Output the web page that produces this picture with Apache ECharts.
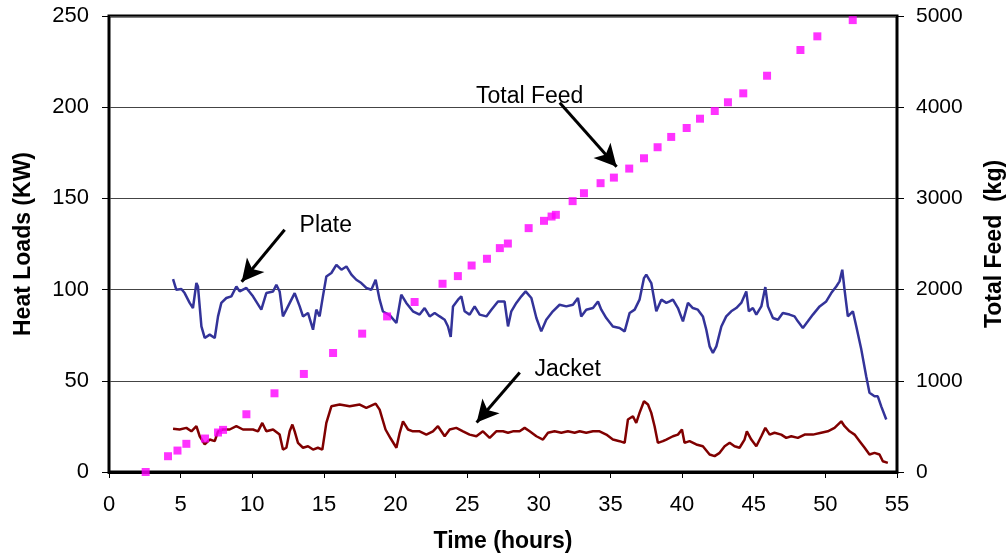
<!DOCTYPE html>
<html>
<head>
<meta charset="utf-8">
<title>Heat Loads and Total Feed</title>
<script src="https://cdn.jsdelivr.net/npm/echarts@6/dist/echarts.min.js"></script>
<style>
  html, body { margin: 0; padding: 0; background: #fff; }
  #chart { width: 1008px; height: 558px; }
</style>
</head>
<body>
<div id="chart"></div>
<script>
// Plate heat load (KW) against time (hours)
const plateHours = [4.47,4.70,5.05,5.28,5.63,5.86,6.10,6.21,6.45,6.68,7.03,7.38,7.61,7.84,8.19,8.54,8.89,9.12,9.59,10.05,10.63,10.98,11.45,11.68,11.91,12.14,12.38,12.73,12.96,13.31,13.54,13.89,14.24,14.47,14.70,14.93,15.17,15.52,15.87,16.22,16.57,16.92,17.26,17.61,17.96,18.31,18.61,18.89,19.12,19.59,20.06,20.40,20.75,21.21,21.68,22.03,22.38,22.73,23.08,23.43,23.66,23.85,24.01,24.36,24.59,24.82,25.17,25.52,25.87,26.34,26.69,27.15,27.61,27.85,28.08,28.43,28.78,29.08,29.48,29.83,30.17,30.52,30.98,31.45,31.92,32.38,32.73,32.96,33.31,33.78,34.13,34.36,34.71,35.17,35.64,35.99,36.34,36.69,37.03,37.34,37.50,37.85,38.20,38.55,38.90,39.13,39.36,39.71,40.06,40.41,40.75,41.10,41.45,41.69,41.92,42.15,42.39,42.74,43.08,43.43,43.78,44.13,44.48,44.66,44.94,45.18,45.53,45.81,45.99,46.34,46.69,47.03,47.50,47.85,48.08,48.43,48.78,49.13,49.60,50.06,50.41,50.76,50.99,51.18,51.34,51.57,51.92,52.16,52.51,52.85,53.08,53.43,53.66,53.90,54.25];
const plateKW = [105.8,99.9,100.3,98.1,92.7,89.9,103.6,101.7,79.8,73.5,75.3,73.5,85.3,92.7,95.4,96.3,101.7,99,100.9,96.3,89,98.1,99,102.7,99,85.3,89,94.5,98.1,90.8,85.3,87.2,78,89,85.3,96.3,107.2,109.1,113.6,110.9,112.7,108.2,105.4,103.6,100.9,99.9,105.4,94.5,88,86,81.7,97.2,92.7,88.1,86.3,89.9,85.3,87.2,85.3,83.5,79.8,74,90.8,94.5,96.3,88.1,86.3,90.8,86.3,85.3,89,93.5,93.5,79.8,88.1,92.7,96.3,99,95.4,84.4,77.1,83.5,88.1,91.7,90.8,91.7,95.4,85.3,89,89.9,93.5,89,84.4,79.8,79,77.1,87.2,89,94.5,106.3,108.2,103.6,88.1,94.5,92.7,93.5,94.5,89.9,82.6,92.7,89.9,89,85.3,78,68.9,65.3,68.9,79.8,85.3,88.1,89.9,92.7,99,88.1,89.9,86.3,90.8,101.4,90.8,84.4,83.5,87.2,86.3,85.3,82.6,79,82.6,86.3,90.8,93.5,98.1,101.7,104.5,110.9,99.9,85.3,88.1,79.8,67.1,52.5,43.4,41.5,41.5,36,28.8];

// Jacket heat load (KW) against time (hours)
const jacketHours = [4.47,4.93,5.40,5.75,6.10,6.33,6.68,7.03,7.38,7.61,7.96,8.42,8.89,9.35,10.05,10.40,10.70,10.98,11.45,11.91,12.14,12.38,12.61,12.80,12.96,13.19,13.54,13.89,14.24,14.58,14.89,15.17,15.52,16.10,16.80,17.50,17.96,18.61,18.89,19.30,19.65,20.06,20.29,20.52,20.87,21.21,21.68,22.15,22.61,22.96,23.43,23.78,24.24,24.71,25.17,25.64,26.10,26.57,27.03,27.50,27.85,28.19,28.66,29.01,29.36,29.83,30.29,30.64,31.10,31.57,32.03,32.50,32.85,33.31,33.78,34.24,34.71,35.17,35.64,35.99,36.22,36.57,36.80,37.03,37.34,37.62,37.85,38.08,38.31,38.66,38.90,39.36,39.71,39.99,40.17,40.52,40.99,41.45,41.92,42.27,42.62,42.97,43.32,43.66,44.01,44.36,44.52,44.83,45.18,45.53,45.81,46.11,46.45,46.92,47.27,47.62,48.08,48.55,49.13,49.71,50.17,50.64,51.11,51.34,51.69,52.04,52.39,52.74,53.08,53.43,53.78,54.01,54.36];
const jacketKW = [23.7,23.3,24.2,22.3,25.1,19.6,15.1,17.8,16.9,22.3,23.3,23.3,25.1,23.3,23.3,22.3,26.9,22.3,23.3,20.5,12.3,13.3,22.3,26,22.3,16,13.3,14.1,12.3,13.3,12.3,26.9,36,37,36,37,35.2,37.5,34.2,23.3,18.5,13.3,21.5,27.8,23.3,22.3,22.3,20.5,22.3,25.1,19.6,23.3,24.2,22.3,20.5,19.6,22.3,18.7,22.3,22.3,21.5,22.3,22.3,24.2,22.3,19.6,17.8,21.5,22.3,21.5,22.3,21.5,22.3,21.5,22.3,22.3,20.5,17.8,16.9,16,28.8,30.6,26.9,32.4,38.8,37,32.4,25.1,16,16.9,17.8,19.6,20.5,23.3,16,16.9,15.1,14.1,9.6,8.7,10.5,14.1,16,14.1,13.3,17.8,22.3,17.8,14.1,19.6,24.2,20.5,21.5,20.5,18.7,19.6,18.7,20.5,20.5,21.5,22.3,24.2,27.8,25.1,22.3,20.5,16.9,13.3,9.6,10.5,9.6,5.9,5];

// Cumulative total feed (kg) against time (hours)
const feedHours = [2.56,4.12,4.78,5.40,6.70,7.61,7.96,9.59,11.55,13.60,15.64,17.67,19.41,21.33,23.28,24.35,25.31,26.38,27.28,27.84,29.29,30.36,30.89,31.19,32.36,33.15,34.31,35.24,36.31,37.34,38.29,39.24,40.32,41.25,42.28,43.20,44.27,45.93,48.26,49.44,51.91];
const feedKg = [0,173,235,309,367,433,462,633,863,1075,1305,1517,1706,1864,2064,2148,2264,2338,2455,2505,2674,2754,2801,2820,2970,3057,3167,3228,3327,3440,3561,3674,3772,3874,3958,4054,4152,4345,4627,4777,4955];

// Annotation labels and the arrows pointing at each curve (hours, KW)
const notes = [
  { text: 'Total Feed', at: [29.36, 205.9], from: [31.46, 202.4], to: [35.43, 167.3] },
  { text: 'Plate',      at: [15.13, 135.0], from: [12.26, 132.8], to: [9.26, 104.3] },
  { text: 'Jacket',     at: [32.02, 56.1],  from: [28.67, 54.5],  to: [25.66, 27.1] }
];

const zip = (xs, ys) => xs.map((x, i) => [x, ys[i]]);
const FONT = '"Liberation Sans", Arial, sans-serif';

const chart = echarts.init(document.getElementById('chart'), null, { renderer: 'canvas' });

chart.setOption({
  backgroundColor: '#ffffff',
  animation: false,
  textStyle: { fontFamily: FONT, color: '#000' },
  grid: {
    left: 109, right: 111, top: 16, bottom: 86,
    containLabel: false, outerBoundsMode: 'none',
    show: true, borderColor: '#000', borderWidth: 3, backgroundColor: 'transparent'
  },
  xAxis: {
    type: 'value', min: 0, max: 55, interval: 5,
    name: 'Time (hours)', nameLocation: 'middle', nameGap: 58,
    nameTextStyle: { fontFamily: FONT, fontSize: 23, fontWeight: 'bold', color: '#000' },
    axisLine: { show: true, lineStyle: { color: '#000', width: 3 } },
    axisTick: { show: true, length: 6, lineStyle: { color: '#000', width: 1 } },
    axisLabel: { fontFamily: FONT, fontSize: 22, color: '#000', margin: 22 },
    splitLine: { show: false }
  },
  yAxis: [
    {
      type: 'value', min: 0, max: 250, interval: 50, position: 'left',
      name: 'Heat Loads (KW)', nameLocation: 'middle', nameGap: 74, nameRotate: 90,
      nameTextStyle: { fontFamily: FONT, fontSize: 23, fontWeight: 'bold', color: '#000' },
      axisLine: { show: true, lineStyle: { color: '#000', width: 2 } },
      axisTick: { show: true, length: 7, lineStyle: { color: '#000', width: 1 } },
      axisLabel: { fontFamily: FONT, fontSize: 22, color: '#000', margin: 20 },
      splitLine: { show: true, lineStyle: { color: '#444', width: 1 } }
    },
    {
      type: 'value', min: 0, max: 5000, interval: 1000, position: 'right',
      name: 'Total Feed  (kg)', nameLocation: 'middle', nameGap: 86, nameRotate: 90,
      nameTextStyle: { fontFamily: FONT, fontSize: 23, fontWeight: 'bold', color: '#000' },
      axisLine: { show: true, lineStyle: { color: '#000', width: 2 } },
      axisTick: { show: true, length: 7, lineStyle: { color: '#000', width: 1 } },
      axisLabel: { fontFamily: FONT, fontSize: 21, color: '#000', margin: 19, formatter: v => String(v) },
      splitLine: { show: false }
    }
  ],
  series: [
    {
      name: 'Plate', type: 'line', yAxisIndex: 0,
      data: zip(plateHours, plateKW),
      showSymbol: false, smooth: false,
      lineStyle: { color: '#333399', width: 2.5 },
      z: 3
    },
    {
      name: 'Jacket', type: 'line', yAxisIndex: 0,
      data: zip(jacketHours, jacketKW),
      showSymbol: false, smooth: false,
      lineStyle: { color: '#800000', width: 2.5 },
      z: 3
    },
    {
      name: 'Total Feed', type: 'scatter', yAxisIndex: 1,
      data: zip(feedHours, feedKg),
      symbol: 'rect', symbolSize: 8,
      itemStyle: { color: '#ff00ff' },
      z: 4
    },
    {
      // callout labels and arrows, placed in hours / KW
      name: 'notes', type: 'line', yAxisIndex: 0, data: [],
      silent: true, z: 5,
      markLine: {
        silent: true, animation: false,
        symbol: ['none', 'arrow'], symbolSize: [17, 22],
        lineStyle: { color: '#000', width: 3, type: 'solid' },
        label: { show: false },
        emphasis: { disabled: true },
        data: notes.map(n => [{ coord: n.from }, { coord: n.to }])
      },
      markPoint: {
        silent: true, animation: false,
        symbol: 'rect', symbolSize: 1,
        itemStyle: { color: 'rgba(0,0,0,0)' },
        label: {
          show: true, position: 'inside',
          fontFamily: FONT, fontSize: 23, color: '#000'
        },
        data: notes.map(n => ({ coord: n.at, value: n.text, label: { formatter: n.text } }))
      }
    }
  ]
});
</script>
</body>
</html>
